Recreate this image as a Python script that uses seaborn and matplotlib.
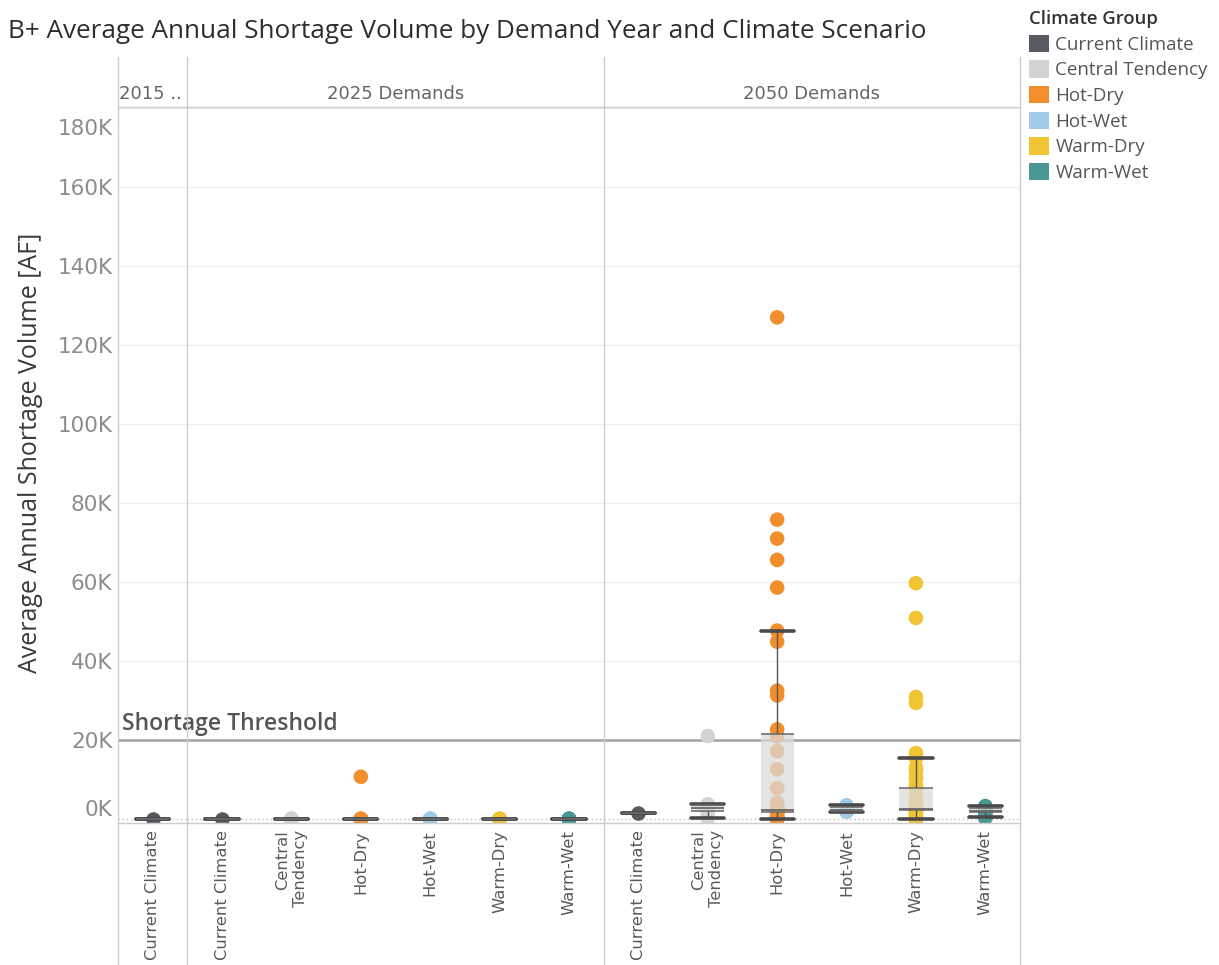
import numpy as np
import pandas as pd
import matplotlib
matplotlib.use("Agg")
import matplotlib.pyplot as plt
import matplotlib.transforms as mtransforms
from matplotlib.lines import Line2D
from matplotlib.patches import Patch
import seaborn as sns

# ---- categories -----------------------------------------------------------
climate_groups = ["Current Climate", "Central Tendency", "Hot-Dry",
                  "Hot-Wet", "Warm-Dry", "Warm-Wet"]
group_colors = ["#575b61", "#d3d3d3", "#f28e2b", "#a0cbe8", "#f0c433", "#499894"]
group_tick_labels = ["Current Climate", "Central\nTendency", "Hot-Dry",
                     "Hot-Wet", "Warm-Dry", "Warm-Wet"]
demand_panels = ["2015 ..", "2025 Demands", "2050 Demands"]
threshold_af = 20000
y_ticks = [0, 20000, 40000, 60000, 80000, 100000, 120000, 140000, 160000, 180000]
y_tick_labels = ["0K", "20K", "40K", "60K", "80K", "100K", "120K", "140K", "160K", "180K"]

# ---- average annual shortage volume [AF] per hydrology trace -------------
# 2015 demands
s2015_current = [0]

# 2025 demands
s2025_current = [0]
s2025_central = [0, 0, 0, 0, 0, 0, 0, 0, 0, 0, 0, 0]
s2025_hot_dry = [10700, 0, 0, 0, 0, 0, 0, 0, 0, 0, 0, 0]
s2025_hot_wet = [0, 0, 0, 0, 0, 0, 0, 0, 0, 0, 0, 0]
s2025_warm_dry = [0, 0, 0, 0, 0, 0, 0, 0, 0, 0, 0, 0]
s2025_warm_wet = [0, 0, 0, 0, 0, 0, 0, 0, 0, 0, 0, 0]

# 2050 demands
s2050_current = [1500]
s2050_central = [21000, 3700, 3600, 3500, 3300, 3000, 2700, 2400, 2200,
                 2100, 1500, 800, 200]
s2050_hot_dry = [127000, 75800, 71000, 65600, 58600, 47700, 44900, 32500,
                 31300, 22700, 21000, 17200, 12600, 7800, 4100, 3500, 3000,
                 2700, 2500, 2400, 2300, 2200, 2200, 2200, 2100, 2100, 2100,
                 2000, 2000, 1900, 1800, 1500, 1000, 600, 300, 200, 0, 0, 0, 0]
s2050_hot_wet = [3500, 3300, 3200, 3000, 2800, 2500, 2300, 2100, 2000,
                 1900, 1900, 1900]
s2050_warm_dry = [59700, 50900, 30900, 29400, 16700, 15400, 13000, 12000,
                  10400, 8600, 7700, 5600, 4500, 3500, 3000, 2900, 2800, 2700,
                  2600, 2600, 2500, 2500, 2500, 2500, 2500, 2450, 2450, 2400,
                  2400, 2400, 2000, 1500, 1000, 600, 300, 0, 0, 0, 0, 0]
s2050_warm_wet = [3300, 3100, 3000, 2800, 2500, 2300, 2100, 2000, 1900,
                  1800, 1200, 600, 200]

panel_data = {
    "2015 ..": {"Current Climate": s2015_current},
    "2025 Demands": {"Current Climate": s2025_current,
                     "Central Tendency": s2025_central,
                     "Hot-Dry": s2025_hot_dry,
                     "Hot-Wet": s2025_hot_wet,
                     "Warm-Dry": s2025_warm_dry,
                     "Warm-Wet": s2025_warm_wet},
    "2050 Demands": {"Current Climate": s2050_current,
                     "Central Tendency": s2050_central,
                     "Hot-Dry": s2050_hot_dry,
                     "Hot-Wet": s2050_hot_wet,
                     "Warm-Dry": s2050_warm_dry,
                     "Warm-Wet": s2050_warm_wet},
}

rows = []
for panel, groups in panel_data.items():
    for grp, vals in groups.items():
        for v in vals:
            rows.append({"panel": panel, "group": grp, "value": v})
df = pd.DataFrame(rows)

palette = dict(zip(climate_groups, group_colors))
tick_label_of = dict(zip(climate_groups, group_tick_labels))

# ---- styling --------------------------------------------------------------
sns.set_theme(style="white")
plt.rcParams["font.family"] = ["Open Sans", "DejaVu Sans"]
WIDE = ["DejaVu Sans"]

W, H = 1219, 965
fig = plt.figure(figsize=(W / 100, H / 100), dpi=100)
fig.patch.set_facecolor("white")

gs = fig.add_gridspec(1, 3, left=118 / W, right=1020 / W,
                      bottom=1 - 823 / H, top=1 - 107 / H,
                      wspace=0, width_ratios=[1, 6, 6])
axes = [fig.add_subplot(gs[0, i]) for i in range(3)]
for i in (1, 2):
    axes[i].sharey(axes[0])

line_grey = "#cdcdcd"

for i, (ax, panel) in enumerate(zip(axes, demand_panels)):
    sub = df[df["panel"] == panel]
    order = [g for g in climate_groups if g in panel_data[panel]]

    sns.stripplot(data=sub, x="group", y="value", hue="group", order=order,
                  hue_order=order, palette=palette, jitter=False, size=10.5,
                  linewidth=0, legend=False, ax=ax, zorder=2)
    sns.boxplot(data=sub, x="group", y="value", order=order, width=0.48,
                whis=1.5, showfliers=False, ax=ax,
                boxprops=dict(facecolor=(0.86, 0.86, 0.86, 0.74),
                              edgecolor="none", linewidth=0),
                medianprops=dict(color="#666666", linewidth=1.3),
                whiskerprops=dict(color="#555555", linewidth=1.0),
                capprops=dict(color="#4a4a4a", linewidth=2.6),
                capwidths=0.48, zorder=3)

    # quartile edges of each box
    for xi, g in enumerate(order):
        vals = np.asarray(panel_data[panel][g], dtype=float)
        q1, q3 = np.percentile(vals, [25, 75])
        ax.hlines([q1, q3], xi - 0.24, xi + 0.24, colors="#666666",
                  linewidth=1.1, zorder=3.5)

    ax.set_xlim(-0.5, len(order) - 0.5)
    ax.set_ylim(-1000, 180250)
    ax.set_xlabel("")
    ax.set_ylabel("")
    ax.patch.set_alpha(0)

    ax.set_yticks(y_ticks)
    ax.yaxis.grid(True, color="#f0f0f0", linewidth=1)
    ax.get_ygridlines()[0].set_visible(False)
    ax.set_axisbelow(True)
    ax.axhline(0, color="#bdbdbd", linewidth=1, linestyle=(0, (1, 2)), zorder=1)
    ax.axhline(threshold_af, color="#a3a3a3", linewidth=1.8, zorder=1.5)

    ax.set_xticks(range(len(order)))
    ax.set_xticklabels([tick_label_of[g] for g in order], rotation=90,
                       ha="center", va="top", multialignment="right",
                       fontsize=11.8, color="#5a5a5a", family=WIDE)
    ax.tick_params(axis="x", length=0, pad=5)
    ax.tick_params(axis="y", length=0, pad=4)

    for side in ("left", "right"):
        ax.spines[side].set_visible(False)
    for side in ("top", "bottom"):
        ax.spines[side].set_color(line_grey)
        ax.spines[side].set_linewidth(1)

    if panel == "2015 ..":
        ax.set_title(panel, loc="left", fontsize=13, color="#666666", pad=6,
                     x=0.02, family=WIDE)
    else:
        ax.set_title(panel, fontsize=13, color="#666666", pad=6, family=WIDE)

    if i > 0:
        ax.tick_params(axis="y", labelleft=False)

# y tick labels on the first panel, end labels nudged inside the plot
ax0 = axes[0]
ax0.set_yticklabels(y_tick_labels, fontsize=15.5, color="#8c8c8c", family=WIDE)
labels = ax0.get_yticklabels()
labels[-1].set_transform(labels[-1].get_transform() +
                         mtransforms.ScaledTranslation(0, -0.19, fig.dpi_scale_trans))
labels[0].set_transform(labels[0].get_transform() +
                        mtransforms.ScaledTranslation(0, 0.11, fig.dpi_scale_trans))

# panel separators running through the header and the label band
for ax, xs in ((axes[0], (0, 1)), (axes[1], (1,)), (axes[2], (1,))):
    tr = mtransforms.blended_transform_factory(ax.transAxes, fig.transFigure)
    for x in xs:
        fig.add_artist(Line2D([x, x], [0, 1 - 57 / H], transform=tr,
                              color=line_grey, linewidth=1))

ax0.annotate("Shortage Threshold", xy=(0, threshold_af),
             xycoords=("axes fraction", "data"), xytext=(4, 4),
             textcoords="offset pixels", ha="left", va="bottom",
             fontsize=16.5, color="#555555", fontweight="semibold",
             annotation_clip=False, zorder=5)

fig.text(31 / W, 1 - 453 / H, "Average Annual Shortage Volume [AF]",
         rotation=90, ha="center", va="center", fontsize=18, color="#3a3a3a")

fig.text(8 / W, 1 - 31 / H,
         "B+ Average Annual Shortage Volume by Demand Year and Climate Scenario",
         ha="left", va="center", fontsize=18.8, color="#2e2e2e")

handles = [Patch(facecolor=c, edgecolor="none") for c in group_colors]
leg = fig.legend(handles, climate_groups, loc="upper left",
                 bbox_to_anchor=(1029 / W, 1 - 10 / H), frameon=False,
                 fontsize=13.5, title="Climate Group", title_fontsize=13.3,
                 handlelength=1.05, handleheight=1.05, handletextpad=0.35,
                 labelspacing=0.35, borderpad=0, borderaxespad=0,
                 alignment="left", labelcolor="#555555")
leg.get_title().set_fontweight("semibold")
leg.get_title().set_color("#333333")

fig.savefig("out.png", dpi=100)
